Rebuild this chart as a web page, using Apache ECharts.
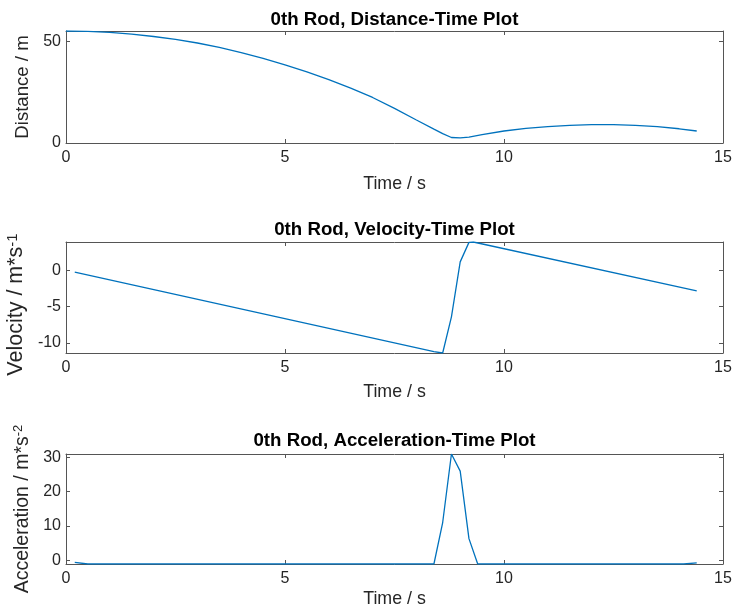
<!DOCTYPE html>
<html>
<head>
<meta charset="utf-8">
<script src="https://cdn.jsdelivr.net/npm/echarts@6/dist/echarts.min.js"></script>
<style>html,body{margin:0;padding:0;background:#fff}#c{width:733px;height:614px}</style>
</head>
<body>
<div id="c"></div>
<script>
// ---- data ----
const titles = ['0th Rod, Distance-Time Plot', '0th Rod, Velocity-Time Plot', '0th Rod, Acceleration-Time Plot'];
const xTicks = [0, 5, 10, 15];

const timeDist = [0, 0.5, 1, 1.5, 2, 2.5, 3, 3.5, 4, 4.5, 5, 5.5, 6, 6.5, 7, 7.5, 8, 8.4, 8.6, 8.8, 9.0, 9.2, 9.5, 10, 10.5, 11, 11.5, 12, 12.5, 13, 13.5, 14, 14.4];
const distance = [55.1, 54.9, 54.4, 53.6, 52.4, 51.0, 49.2, 47.0, 44.5, 41.6, 38.4, 35.0, 31.2, 27.0, 22.4, 17.0, 11.3, 6.8, 4.6, 2.7, 2.5, 2.9, 4.1, 5.9, 7.2, 8.1, 8.7, 9.0, 9.0, 8.7, 8.1, 7.0, 5.9];
const distTicks = [0, 50];

const timeVel = [0.2, 8.4, 8.6, 8.8, 9.0, 9.2, 9.3, 14.4];
const velocity = [-0.2, -11.2, -11.4, -6.4, 1.2, 3.9, 3.95, -2.8];
const velTicks = [-10, -5, 0];

const timeAcc = [0.2, 0.5, 8.4, 8.6, 8.8, 9.0, 9.2, 9.4, 14.1, 14.4];
const acceleration = [-0.6, -1.1, -1.1, 11, 31, 26, 6.3, -1.1, -1.1, -0.8];
const accTicks = [0, 10, 20, 30];

const yNames = ['{a|Distance / m}', '{a|Velocity / m*s}{b|-1}', '{a|Acceleration / m*s}{b|-2}'];

// ---- layout ----
const FONT = 'Liberation Sans, Arial, Helvetica, sans-serif';
const AX = '#555555';
const TXT = '#262626';
const grids = [
  {left: 66, right: 10, top: 31, height: 112, outerBoundsMode: 'none', containLabel: false},
  {left: 66, right: 10, top: 242, height: 111, outerBoundsMode: 'none', containLabel: false},
  {left: 66, right: 10, top: 454, height: 110, outerBoundsMode: 'none', containLabel: false}
];
const yRanges = [[0, 55.1], [-11.4, 3.95], [-1.1, 31.0]];
const yTickSets = [distTicks, velTicks, accTicks];
const xNameGaps = [32, 30, 26];
const yNameGaps = [28, 30, 27];
const yNameSizes = [18.6, 21.5, 19.5];
const yNamePads = [[0, 0, 0, 0], [0, 14, 0, 0], [0, 0, 0, 0]];
const titleTops = [10, 220, 431];
const seriesData = [
  timeDist.map((t, i) => [t, distance[i]]),
  timeVel.map((t, i) => [t, velocity[i]]),
  timeAcc.map((t, i) => [t, acceleration[i]])
];

const xAxis = [], yAxis = [], series = [], title = [];
for (let i = 0; i < 3; i++) {
  title.push({
    text: titles[i], left: 394.5, top: titleTops[i], textAlign: 'center', padding: 0,
    textStyle: {fontFamily: FONT, fontSize: 18.7, fontWeight: 'bold', color: '#000'}
  });
  const baseX = {
    type: 'value', gridIndex: i, min: 0, max: 15, interval: 5,
    axisLine: {show: true, onZero: false, lineStyle: {color: AX, width: 1}},
    axisTick: {show: true, inside: true, length: 4, lineStyle: {color: AX}},
    splitLine: {show: false}
  };
  xAxis.push(Object.assign({}, baseX, {
    position: 'bottom',
    axisLabel: {show: true, margin: 7, fontFamily: FONT, fontSize: 16, color: TXT},
    name: 'Time / s', nameLocation: 'middle', nameGap: xNameGaps[i],
    nameTextStyle: {fontFamily: FONT, fontSize: 17.8, color: TXT}
  }));
  xAxis.push(Object.assign({}, baseX, {position: 'top', axisLabel: {show: false}}));
  const baseY = {
    type: 'value', gridIndex: i, min: yRanges[i][0], max: yRanges[i][1],
    axisLine: {show: true, onZero: false, lineStyle: {color: AX, width: 1}},
    axisTick: {show: true, inside: true, length: 4, lineStyle: {color: AX}, customValues: yTickSets[i]},
    splitLine: {show: false}
  };
  const fs = yNameSizes[i];
  yAxis.push(Object.assign({}, baseY, {
    position: 'left',
    axisLabel: {show: true, margin: 5, fontFamily: FONT, fontSize: 16, color: TXT, customValues: yTickSets[i]},
    name: yNames[i], nameLocation: 'middle', nameGap: yNameGaps[i], nameRotate: 90,
    nameTextStyle: {
      fontFamily: FONT, fontSize: fs, color: TXT, padding: yNamePads[i],
      rich: {
        a: {fontSize: fs, fontFamily: FONT, color: TXT},
        b: {fontSize: Math.round(fs * 0.68), fontFamily: FONT, color: TXT, verticalAlign: 'top'}
      }
    }
  }));
  yAxis.push(Object.assign({}, baseY, {
    position: 'right',
    axisLabel: {show: false, customValues: yTickSets[i]}
  }));
  series.push({
    type: 'line', xAxisIndex: 2 * i, yAxisIndex: 2 * i, data: seriesData[i],
    showSymbol: false, symbol: 'none', clip: true, animation: false,
    lineStyle: {color: '#0072BD', width: 1.3}
  });
}

const chart = echarts.init(document.getElementById('c'), null, {renderer: 'canvas'});
chart.setOption({
  animation: false,
  backgroundColor: '#fff',
  title: title,
  grid: grids,
  xAxis: xAxis,
  yAxis: yAxis,
  series: series
});
</script>
</body>
</html>
